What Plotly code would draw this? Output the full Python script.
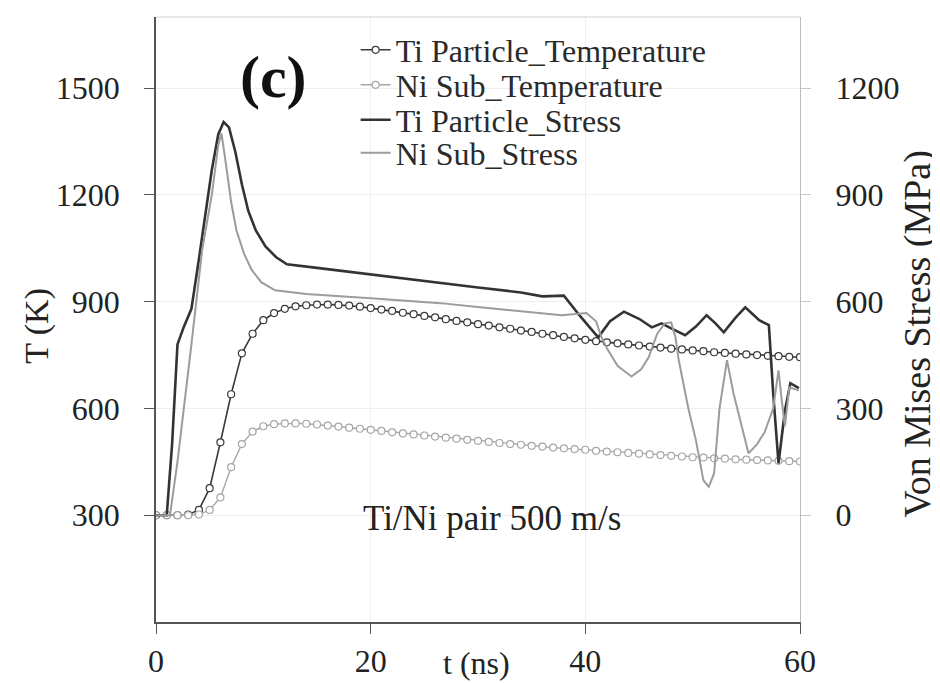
import plotly.graph_objects as go

# ---- data ----
t_temp = list(range(0, 61))
ti_temp = [300, 300, 300, 302, 315, 376, 505, 640, 755, 810, 848, 868, 880, 887, 890, 892, 892, 891, 889, 886,
           882, 878, 874, 869, 865, 860, 856, 851, 846, 842, 837, 833, 828, 824, 819, 815, 810, 806, 801, 797,
           793, 789, 786, 783, 780, 777, 774, 771, 768, 766, 763, 761, 758, 756, 754, 752, 750, 748, 747, 745, 744]
ni_temp = [300, 300, 300, 300, 302, 315, 350, 435, 500, 535, 550, 556, 558, 558, 557, 555, 552, 549, 546, 543,
           540, 537, 533, 530, 527, 524, 521, 518, 515, 512, 509, 506, 503, 500, 498, 495, 493, 490, 488, 486,
           484, 481, 479, 477, 475, 473, 471, 469, 467, 465, 463, 462, 460, 459, 457, 456, 455, 454, 453, 452, 451]

t_ti_stress = [0, 1.0, 1.5, 2.0, 2.6, 3.3, 4.0, 4.6, 5.2, 5.8, 6.3, 6.8, 7.4, 8.0, 8.6, 9.3, 10.2, 11.2, 12.2,
               15, 20, 25, 30, 34, 36, 38, 39.5, 41.2, 42.3, 43.6, 45, 46.2, 47.1, 48, 49.3, 50.3, 51.3, 52.1,
               52.9, 54, 54.9, 55.6, 56.2, 57.1, 57.5, 58, 58.6, 59.1, 59.9]
ti_stress = [0, 0, 200, 480, 530, 580, 720, 850, 970, 1070, 1105, 1090, 1020, 930, 855, 800, 755, 725, 705,
             695, 676, 657, 640, 626, 615, 617, 560, 500, 545, 572, 552, 528, 539, 525, 506, 530, 562, 540,
             514, 555, 584, 565, 548, 534, 343, 146, 295, 371, 357]

t_ni_stress = [0, 1.3, 2.0, 2.5, 3.3, 4.3, 5.2, 5.8, 6.1, 6.5, 7.0, 7.5, 8.2, 8.9, 9.8, 11.1, 14, 20, 26.5,
               30, 35, 37.8, 40.1, 41.0, 41.5, 42.0, 43.0, 44.3, 45.2, 45.9, 46.7, 47.4, 48.0, 48.4, 48.7, 49.6,
               50.3, 51.0, 51.5, 52.0, 52.5, 53.2, 53.8, 54.5, 55.2, 56.0, 56.7, 57.5, 58.0, 58.3, 58.6, 59.0, 59.9]
ni_stress = [0, 0, 150, 275, 480, 745, 900, 1040, 1073, 990, 880, 800, 735, 690, 655, 632, 622, 610, 596,
             585, 570, 562, 568, 545, 500, 470, 420, 390, 410, 444, 510, 539, 542, 500, 436, 300,
             211, 98, 80, 118, 300, 436, 343, 260, 174, 200, 233, 300, 407, 323, 250, 360, 350]

left_ticks = [300, 600, 900, 1200, 1500]
right_ticks = [0, 300, 600, 900, 1200]
x_ticks = [0, 20, 40, 60]

FONT = "Liberation Serif"
DARK = "#3a3a3a"
LIGHT = "#a6a6a6"

fig = go.Figure()
fig.add_trace(go.Scatter(
    x=t_temp, y=ti_temp, name="Ti Particle_Temperature", mode="lines+markers", legend="legend",
    line=dict(color=DARK, width=1.6),
    marker=dict(symbol="circle", size=7, color="white", line=dict(color=DARK, width=1.2))))
fig.add_trace(go.Scatter(
    x=t_temp, y=ni_temp, name="Ni Sub_Temperature", mode="lines+markers", legend="legend2",
    line=dict(color=LIGHT, width=1.4),
    marker=dict(symbol="circle", size=7, color="white", line=dict(color=LIGHT, width=1.2))))
fig.add_trace(go.Scatter(
    x=t_ti_stress, y=ti_stress, name="Ti Particle_Stress", mode="lines", yaxis="y2", legend="legend3",
    line=dict(color="#333333", width=2.6)))
fig.add_trace(go.Scatter(
    x=t_ni_stress, y=ni_stress, name="Ni Sub_Stress", mode="lines", yaxis="y2", legend="legend4",
    line=dict(color="#9c9c9c", width=2)))

# page has an 8px body margin; figure is sized to fit the 940x683 window
OFF = 8
W, H = 940 - OFF, 683 - OFF
PLOT_LEFT, PLOT_RIGHT = 156, 800    # page pixels
PLOT_TOP, PLOT_BOT = 17, 622        # page pixels

def py(pix):
    return (PLOT_BOT - pix) / (PLOT_BOT - PLOT_TOP)

legfont = dict(family=FONT, size=32, color="#2a2a2a")
def leg(ypix):
    return dict(x=0.31, y=py(ypix), xanchor="left", yanchor="middle", font=legfont,
                bgcolor="rgba(0,0,0,0)", borderwidth=0)

fig.update_layout(
    width=W, height=H,
    margin=dict(l=PLOT_LEFT - OFF, r=W - (PLOT_RIGHT - OFF), t=PLOT_TOP - OFF,
                b=H - (PLOT_BOT - OFF), autoexpand=False),
    paper_bgcolor="white", plot_bgcolor="white",
    font=dict(family=FONT, size=32, color="#222222"),
    showlegend=True,
    legend=leg(50), legend2=leg(85), legend3=leg(120), legend4=leg(153),
    xaxis=dict(range=[0, 60], tickvals=x_ticks, ticks="outside", ticklen=10, tickcolor="#555",
               showline=True, linecolor="#555", linewidth=1.5, automargin=False,
               showgrid=True, gridcolor="#efefef", zeroline=False,
               ticklabelstandoff=0, tickfont=dict(size=32)),
    yaxis=dict(range=[0, 1700], tickvals=left_ticks, ticks="outside", ticklen=10, tickcolor="#555",
               showline=True, linecolor="#555", linewidth=1.5, automargin=False,
               showgrid=True, gridcolor="#efefef", zeroline=False,
               ticklabelstandoff=18, tickfont=dict(size=32)),
    yaxis2=dict(range=[-300, 1400], tickvals=right_ticks, overlaying="y", side="right",
                ticks="outside", ticklen=10, tickcolor="#c8c8c8", automargin=False,
                showline=True, linecolor="#bdbdbd", linewidth=1.2,
                showgrid=False, zeroline=False,
                ticklabelstandoff=18, tickfont=dict(size=32)),
    shapes=[dict(type="line", xref="paper", yref="paper", x0=0, x1=1, y0=1, y1=1,
                 line=dict(color="#d0d0d0", width=1.2))],
    annotations=[
        dict(text="t (ns)", xref="paper", yref="paper", x=0.497, y=py(663),
             showarrow=False, font=dict(size=32), xanchor="center", yanchor="middle"),
        dict(text="T (K)", xref="paper", yref="paper", x=-0.185, y=py(326), textangle=-90,
             showarrow=False, font=dict(size=34), xanchor="center", yanchor="middle"),
        dict(text="Von Mises Stress (MPa)", xref="paper", yref="paper", x=1.183, y=py(334),
             textangle=-90, showarrow=False, font=dict(size=38), xanchor="center", yanchor="middle"),
        dict(text="<b>(c)</b>", xref="paper", yref="paper", x=0.183, y=py(77),
             showarrow=False, font=dict(size=60, color="#111"), xanchor="center", yanchor="middle"),
        dict(text="Ti/Ni pair 500 m/s", xref="paper", yref="paper", x=0.522, y=py(518),
             showarrow=False, font=dict(size=35), xanchor="center", yanchor="middle"),
    ],
)

fig.write_html("out.html")
